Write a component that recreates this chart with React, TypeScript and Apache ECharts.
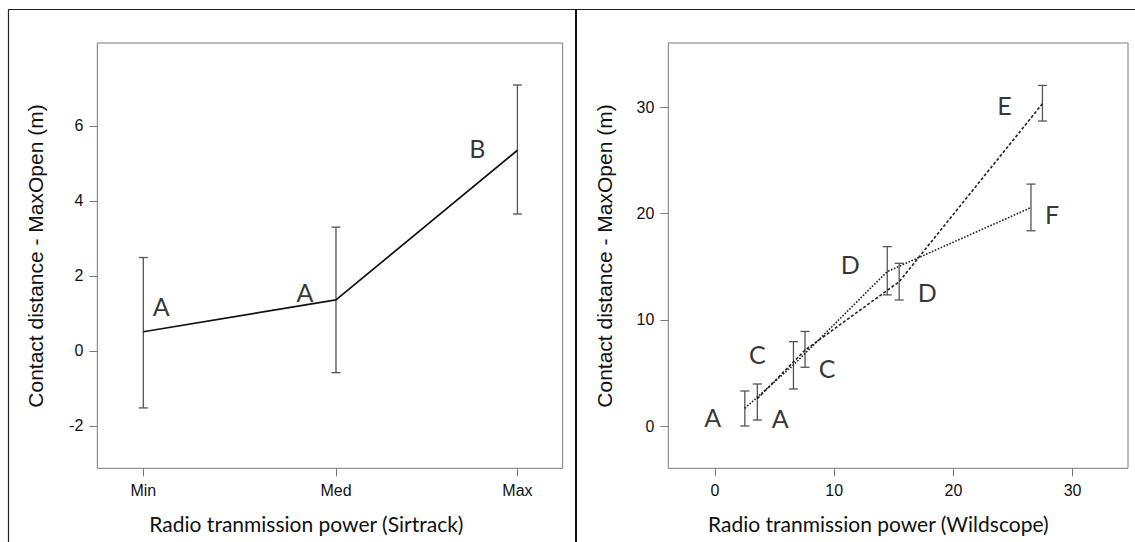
import React, { useEffect, useRef } from "react";
import * as echarts from "echarts";

// ---------- Left panel: Sirtrack ----------
const sirtrackCategories = ["Min", "Med", "Max"];
const sirtrackX = [0, 0.515, 1];
const sirtrackMean = [0.51, 1.36, 5.35];
const sirtrackLow = [-1.52, -0.58, 3.65];
const sirtrackHigh = [2.49, 3.3, 7.09];
const sirtrackLetters = ["A", "A", "B"];
const sirtrackYTicks = [-2, 0, 2, 4, 6];

// ---------- Right panel: Wildscope ----------
// series ending at F (dotted)
const wildFX = [2.5, 6.58, 14.45, 26.51];
const wildFMean = [1.69, 5.77, 14.55, 20.57];
const wildFLow = [0.03, 3.51, 12.36, 18.39];
const wildFHigh = [3.32, 7.96, 16.9, 22.78];
const wildFLetters = ["A", "C", "D", "F"];
// series ending at E (dashed)
const wildEX = [3.55, 7.55, 15.45, 27.47];
const wildEMean = [2.6, 7.16, 13.6, 30.34];
const wildELow = [0.59, 5.55, 11.88, 28.71];
const wildEHigh = [3.98, 8.92, 15.33, 32.06];
const wildELetters = ["A", "C", "D", "E"];
const wildXTicks = [0, 10, 20, 30];
const wildYTicks = [0, 10, 20, 30];

// label offsets (style only)
const sirtrackLabelOffsets = [[18, -26], [-31, -8], [-40, -2]];
const wildFLabelOffsets = [[-32, 9], [-36, -11], [-37, -8], [21, 6]];
const wildELabelOffsets = [[23, 19], [22, 18], [28, 10], [-38, 1]];

const AXIS_GRAY = "#7a7a7a";
const TEXT_DARK = "#111111";
const ERR_GRAY = "#555555";

function errorBarSeries(xs: number[], lo: number[], hi: number[], axis: number) {
  return {
    type: "custom",
    xAxisIndex: axis,
    yAxisIndex: axis,
    silent: true,
    data: xs.map((x, i) => [x, lo[i], hi[i]]),
    encode: { x: 0, y: [1, 2] },
    renderItem: (_params: any, api: any) => {
      const x = api.value(0);
      const top = api.coord([x, api.value(2)]);
      const bot = api.coord([x, api.value(1)]);
      const w = 4.5;
      const style = { stroke: ERR_GRAY, lineWidth: 1.3 };
      return {
        type: "group",
        children: [
          { type: "line", shape: { x1: top[0], y1: top[1], x2: bot[0], y2: bot[1] }, style },
          { type: "line", shape: { x1: top[0] - w, y1: top[1], x2: top[0] + w, y2: top[1] }, style },
          { type: "line", shape: { x1: bot[0] - w, y1: bot[1], x2: bot[0] + w, y2: bot[1] }, style },
        ],
      };
    },
  };
}

function letterSeries(xs: number[], ys: number[], letters: string[], offsets: number[][], axis: number) {
  return {
    type: "scatter",
    xAxisIndex: axis,
    yAxisIndex: axis,
    silent: true,
    symbolSize: 1,
    itemStyle: { color: "rgba(0,0,0,0)" },
    z: 5,
    data: xs.map((x, i) => ({
      value: [x, ys[i]],
      label: {
        show: true,
        position: "inside",
        offset: offsets[i],
        formatter: letters[i],
        fontFamily: "Lato",
        fontSize: 25,
        color: "#000000",
        align: "center",
        verticalAlign: "middle",
      },
    })),
  };
}

const tickLabelStyle = {
  fontFamily: "Liberation Sans, Arial",
  fontSize: 16,
  color: TEXT_DARK,
  margin: 14,
};

const hiddenAxisLine = { show: false, onZero: false };

export default function App() {
  const ref = useRef<HTMLDivElement>(null);
  useEffect(() => {
    if (!ref.current) return;
    const chart = echarts.init(ref.current, undefined, { renderer: "svg" });
    const option: any = {
      animation: false,
      backgroundColor: "#ffffff",
      grid: [
        { left: 97.3, top: 43, width: 465.4, height: 425.3, show: true, borderColor: AXIS_GRAY, borderWidth: 1, backgroundColor: "transparent" },
        { left: 668.3, top: 43, width: 459.7, height: 425.3, show: true, borderColor: AXIS_GRAY, borderWidth: 1, backgroundColor: "transparent" },
      ],
      xAxis: [
        {
          type: "value",
          gridIndex: 0,
          min: -0.123,
          max: 1.121,
          axisLine: hiddenAxisLine,
          splitLine: { show: false },
          axisTick: { show: true, length: 8, customValues: sirtrackX, lineStyle: { color: AXIS_GRAY } },
          axisLabel: {
            ...tickLabelStyle,
            customValues: sirtrackX,
            formatter: (v: number) => {
              const i = sirtrackX.findIndex((p) => Math.abs(p - v) < 1e-6);
              return i >= 0 ? sirtrackCategories[i] : "";
            },
          },
        },
        {
          type: "value",
          gridIndex: 1,
          min: -3.92,
          max: 34.65,
          axisLine: hiddenAxisLine,
          splitLine: { show: false },
          axisTick: { show: true, length: 8, customValues: wildXTicks, lineStyle: { color: AXIS_GRAY } },
          axisLabel: { ...tickLabelStyle, customValues: wildXTicks },
        },
      ],
      yAxis: [
        {
          type: "value",
          gridIndex: 0,
          min: -3.13,
          max: 8.21,
          axisLine: hiddenAxisLine,
          splitLine: { show: false },
          axisTick: { show: true, length: 8, customValues: sirtrackYTicks, lineStyle: { color: AXIS_GRAY } },
          axisLabel: { ...tickLabelStyle, customValues: sirtrackYTicks },
        },
        {
          type: "value",
          gridIndex: 1,
          min: -3.95,
          max: 36.05,
          axisLine: hiddenAxisLine,
          splitLine: { show: false },
          axisTick: { show: true, length: 8, customValues: wildYTicks, lineStyle: { color: AXIS_GRAY } },
          axisLabel: { ...tickLabelStyle, customValues: wildYTicks },
        },
      ],
      series: [
        errorBarSeries(sirtrackX, sirtrackLow, sirtrackHigh, 0),
        {
          type: "line",
          xAxisIndex: 0,
          yAxisIndex: 0,
          silent: true,
          symbol: "none",
          data: sirtrackX.map((x, i) => [x, sirtrackMean[i]]),
          lineStyle: { color: "#111111", width: 1.7 },
        },
        letterSeries(sirtrackX, sirtrackMean, sirtrackLetters, sirtrackLabelOffsets, 0),

        errorBarSeries(wildFX, wildFLow, wildFHigh, 1),
        errorBarSeries(wildEX, wildELow, wildEHigh, 1),
        {
          type: "line",
          xAxisIndex: 1,
          yAxisIndex: 1,
          silent: true,
          symbol: "none",
          data: wildFX.map((x, i) => [x, wildFMean[i]]),
          lineStyle: { color: "#222222", width: 1.6, type: [1.6, 1.6] },
        },
        {
          type: "line",
          xAxisIndex: 1,
          yAxisIndex: 1,
          silent: true,
          symbol: "none",
          data: wildEX.map((x, i) => [x, wildEMean[i]]),
          lineStyle: { color: "#222222", width: 1.6, type: [3, 2] },
        },
        letterSeries(wildFX, wildFMean, wildFLetters, wildFLabelOffsets, 1),
        letterSeries(wildEX, wildEMean, wildELetters, wildELabelOffsets, 1),
      ],
      graphic: [
        { type: "line", shape: { x1: 8, y1: 9.5, x2: 1135, y2: 9.5 }, style: { stroke: "#222", lineWidth: 1.2 } },
        { type: "line", shape: { x1: 8.5, y1: 9, x2: 8.5, y2: 542 }, style: { stroke: "#222", lineWidth: 1.2 } },
        { type: "line", shape: { x1: 576, y1: 9, x2: 576, y2: 542 }, style: { stroke: "#111", lineWidth: 2 } },
        {
          type: "text",
          x: 306.4,
          y: 523,
          style: { text: "Radio tranmission power (Sirtrack)", fontFamily: "Lato", fontSize: 21, fill: TEXT_DARK, align: "center", verticalAlign: "middle" },
        },
        {
          type: "text",
          x: 878.3,
          y: 523,
          style: { text: "Radio tranmission power (Wildscope)", fontFamily: "Lato", fontSize: 21, fill: TEXT_DARK, align: "center", verticalAlign: "middle" },
        },
        {
          type: "text",
          x: 35.3,
          y: 256,
          rotation: Math.PI / 2,
          style: { text: "Contact distance - MaxOpen (m)", fontFamily: "Liberation Sans, Arial", fontSize: 21, fill: TEXT_DARK, align: "center", verticalAlign: "middle" },
        },
        {
          type: "text",
          x: 604.2,
          y: 256,
          rotation: Math.PI / 2,
          style: { text: "Contact distance - MaxOpen (m)", fontFamily: "Liberation Sans, Arial", fontSize: 21, fill: TEXT_DARK, align: "center", verticalAlign: "middle" },
        },
      ],
    };
    chart.setOption(option);
    return () => chart.dispose();
  }, []);
  return (
    <div
      ref={ref}
      style={{ position: "fixed", left: 0, top: 0, width: 1135, height: 542, background: "#fff" }}
    />
  );
}
